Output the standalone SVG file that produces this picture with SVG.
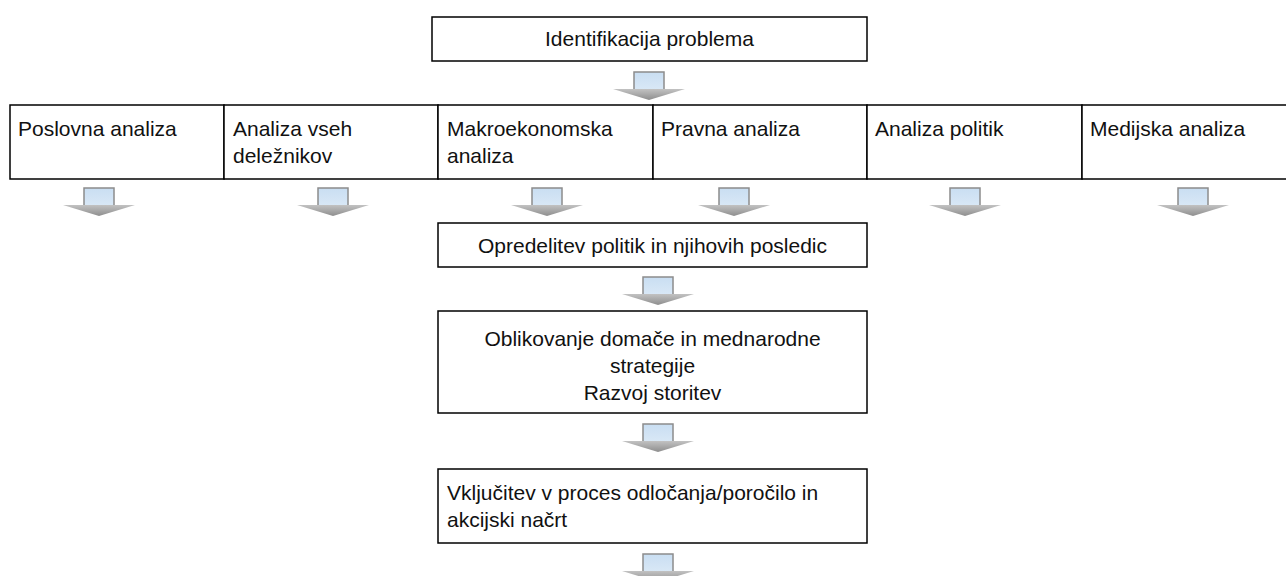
<svg xmlns="http://www.w3.org/2000/svg" xmlns:xlink="http://www.w3.org/1999/xlink" width="1286" height="576" viewBox="0 0 1286 576">
<style>
.box{fill:#fff;stroke:#000;stroke-width:1.5}
.t{font-family:"Liberation Sans",Arial,sans-serif;font-size:21px;fill:#111}
.c{text-anchor:middle}
</style>
<defs>
<linearGradient id="blue" x1="0" y1="0" x2="0" y2="1">
<stop offset="0" stop-color="#c9def2"/><stop offset="1" stop-color="#d9e8f6"/>
</linearGradient>
<linearGradient id="grayg" x1="0" y1="0" x2="0" y2="1">
<stop offset="0" stop-color="#c2c2c2"/><stop offset="1" stop-color="#8e8e8e"/>
</linearGradient>
<g id="arr">
<rect x="-15" y="0" width="30" height="18" fill="url(#blue)" stroke="#8c8c8c" stroke-width="1.5"/>
<polygon points="-36,17 36,17 0,28" fill="url(#grayg)"/>
</g>
</defs>
<rect width="1286" height="576" fill="#fff"/>
<g id="n-identifikacija">
<rect class="box" x="432" y="17" width="435" height="44"/>
<text class="t c" x="649.5" y="46">Identifikacija problema</text>
</g>
<g id="n-poslovna">
<rect class="box" x="10" y="105" width="214" height="74"/>
<text class="t" x="18" y="136">Poslovna analiza</text>
</g>
<g id="n-delezniki">
<rect class="box" x="224" y="105" width="214" height="74"/>
<text class="t" x="233" y="136">Analiza vseh</text>
<text class="t" x="233" y="163">deležnikov</text>
</g>
<g id="n-makro">
<rect class="box" x="438" y="105" width="215" height="74"/>
<text class="t" x="447" y="136">Makroekonomska</text>
<text class="t" x="447" y="163">analiza</text>
</g>
<g id="n-pravna">
<rect class="box" x="653" y="105" width="214" height="74"/>
<text class="t" x="661" y="136">Pravna analiza</text>
</g>
<g id="n-politik">
<rect class="box" x="867" y="105" width="215" height="74"/>
<text class="t" x="875" y="136">Analiza politik</text>
</g>
<g id="n-medijska">
<rect class="box" x="1082" y="105" width="220" height="74"/>
<text class="t" x="1090" y="136">Medijska analiza</text>
</g>
<g id="n-opredelitev">
<rect class="box" x="438" y="223" width="429" height="44"/>
<text class="t c" x="652.5" y="253">Opredelitev politik in njihovih posledic</text>
</g>
<g id="n-oblikovanje">
<rect class="box" x="438" y="311" width="429" height="102"/>
<text class="t c" x="652.5" y="346">Oblikovanje domače in mednarodne</text>
<text class="t c" x="652.5" y="373">strategije</text>
<text class="t c" x="652.5" y="400">Razvoj storitev</text>
</g>
<g id="n-vkljucitev">
<rect class="box" x="438" y="469" width="429" height="74"/>
<text class="t" x="447" y="500">Vključitev v proces odločanja/poročilo in</text>
<text class="t" x="447" y="527">akcijski načrt</text>
</g>
<g id="connectors">
<use xlink:href="#arr" transform="translate(649,72)"/>
<use xlink:href="#arr" transform="translate(99,188)"/>
<use xlink:href="#arr" transform="translate(333,188)"/>
<use xlink:href="#arr" transform="translate(547,188)"/>
<use xlink:href="#arr" transform="translate(734,188)"/>
<use xlink:href="#arr" transform="translate(965,188)"/>
<use xlink:href="#arr" transform="translate(1193,188)"/>
<use xlink:href="#arr" transform="translate(658,277)"/>
<use xlink:href="#arr" transform="translate(658,424)"/>
<use xlink:href="#arr" transform="translate(658,554)"/>
</g>
</svg>
